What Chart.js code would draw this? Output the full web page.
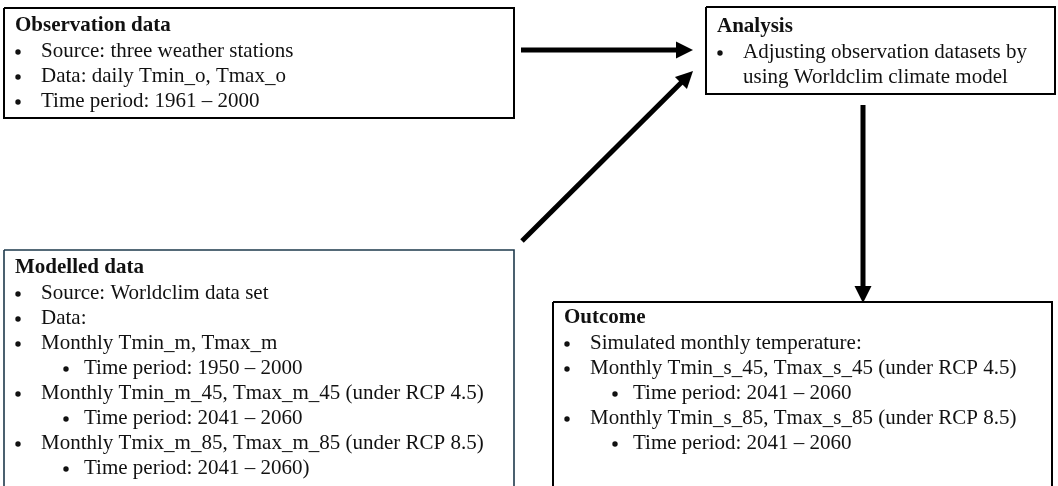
<!DOCTYPE html>
<html>
<head>
<meta charset="utf-8">
<title>Workflow</title>
<script src="https://cdn.jsdelivr.net/npm/chart.js@4"></script>
<style>
    html, body { margin: 0; padding: 0; background: #fff; }
    #flow { display: block; }
</style>
</head>
<body>
<canvas id="flow" width="1058" height="486"></canvas>

<script>
    // boxes: [left, top, right, bottom] in the chart's own units
    var obsBox = [4, 8, 514, 118];
    var analysisBox = [706, 7, 1055, 94];
    var modelBox = [4, 250, 514, 495];
    var outcomeBox = [553, 302, 1052, 495];

    // arrows: [tailX, tailY, tipX, tipY]
    var obsArrow = [521, 50, 693, 50];
    var modelArrow = [522, 241, 693, 71];
    var outArrow = [863, 105, 863, 303];

    var obsTitle = "Observation data";
    var obsLines = [
        [1, "Source: three weather stations"],
        [1, "Data: daily Tmin_o, Tmax_o"],
        [1, "Time period: 1961 \u2013 2000"]
    ];
    var analysisTitle = "Analysis";
    var analysisLines = [
        [1, "Adjusting observation datasets by"],
        [0, "using Worldclim climate model"]
    ];
    var modelTitle = "Modelled data";
    var modelLines = [
        [1, "Source: Worldclim data set"],
        [1, "Data:"],
        [1, "Monthly Tmin_m, Tmax_m"],
        [2, "Time period: 1950 \u2013 2000"],
        [1, "Monthly Tmin_m_45, Tmax_m_45 (under RCP 4.5)"],
        [2, "Time period: 2041 \u2013 2060"],
        [1, "Monthly Tmix_m_85, Tmax_m_85 (under RCP 8.5)"],
        [2, "Time period: 2041 \u2013 2060)"]
    ];
    var outcomeTitle = "Outcome";
    var outcomeLines = [
        [1, "Simulated monthly temperature:"],
        [1, "Monthly Tmin_s_45, Tmax_s_45 (under RCP 4.5)"],
        [2, "Time period: 2041 \u2013 2060"],
        [1, "Monthly Tmin_s_85, Tmax_s_85 (under RCP 8.5)"],
        [2, "Time period: 2041 \u2013 2060"]
    ];

    var FONT = "'Liberation Serif', 'Times New Roman', serif";

    function boxData(b) {
        return [
            {x: b[0], y: b[1]}, {x: b[2], y: b[1]},
            {x: b[2], y: b[3]}, {x: b[0], y: b[3]}, {x: b[0], y: b[1]}
        ];
    }

    // shaft stops a bit short of the tip so the head stays sharp
    function shaftData(a) {
        var dx = a[2] - a[0], dy = a[3] - a[1];
        var len = Math.sqrt(dx * dx + dy * dy);
        var back = 9 / len;
        return [{x: a[0], y: a[1]}, {x: a[2] - dx * back, y: a[3] - dy * back}];
    }

    function boxSet(b, color, width) {
        return {data: boxData(b), showLine: true, borderColor: color, borderWidth: width,
                pointRadius: 0, fill: false, tension: 0, borderJoinStyle: 'miter', kind: 'box'};
    }
    function arrowSet(a) {
        return {data: shaftData(a), showLine: true, borderColor: '#000', borderWidth: 5,
                pointRadius: 0, fill: false, borderCapStyle: 'butt', kind: 'arrow', arrow: a};
    }

    var panels = [
        {box: obsBox, title: obsTitle, lines: obsLines, pad: 18},
        {box: analysisBox, title: analysisTitle, lines: analysisLines, pad: 20},
        {box: modelBox, title: modelTitle, lines: modelLines, pad: 18},
        {box: outcomeBox, title: outcomeTitle, lines: outcomeLines, pad: 16}
    ];

    var flowPlugin = {
        id: 'flowText',
        afterDatasetsDraw: function(chart) {
            var ctx = chart.ctx;
            var xs = chart.scales.x, ys = chart.scales.y;
            ctx.save();

            // arrow heads
            chart.data.datasets.forEach(function(ds) {
                if (ds.kind !== 'arrow') return;
                var a = ds.arrow;
                var tx = xs.getPixelForValue(a[2]), ty = ys.getPixelForValue(a[3]);
                var fx = xs.getPixelForValue(a[0]), fy = ys.getPixelForValue(a[1]);
                var ang = Math.atan2(ty - fy, tx - fx);
                var hl = 17, hw = 8.5;
                ctx.fillStyle = '#000';
                ctx.beginPath();
                ctx.moveTo(tx, ty);
                ctx.lineTo(tx - hl * Math.cos(ang) + hw * Math.sin(ang), ty - hl * Math.sin(ang) - hw * Math.cos(ang));
                ctx.lineTo(tx - hl * Math.cos(ang) - hw * Math.sin(ang), ty - hl * Math.sin(ang) + hw * Math.cos(ang));
                ctx.closePath();
                ctx.fill();
            });

            // box texts
            ctx.fillStyle = '#111';
            ctx.textBaseline = 'middle';
            ctx.textAlign = 'left';
            panels.forEach(function(p) {
                var left = xs.getPixelForValue(p.box[0]);
                var top = ys.getPixelForValue(p.box[1]);
                var y = top + p.pad;
                ctx.font = 'bold 21px ' + FONT;
                ctx.fillText(p.title, left + 11, y);
                ctx.font = '21px ' + FONT;
                p.lines.forEach(function(l) {
                    y += 25;
                    var lvl = l[0];
                    var bx = lvl === 2 ? left + 62 : left + 14;
                    var tx = lvl === 2 ? left + 80 : left + 37;
                    if (lvl > 0) {
                        ctx.beginPath();
                        ctx.arc(bx, y + 1, 2.7, 0, Math.PI * 2);
                        ctx.fill();
                    }
                    ctx.fillText(l[1], tx, y);
                });
            });
            ctx.restore();
        }
    };

    new Chart(document.getElementById("flow"), {
        type: "scatter",
        data: {
            datasets: [
                boxSet(obsBox, '#000', 2),
                boxSet(analysisBox, '#000', 2),
                boxSet(modelBox, '#1e3a4c', 1.6),
                boxSet(outcomeBox, '#000', 2),
                arrowSet(obsArrow),
                arrowSet(modelArrow),
                arrowSet(outArrow)
            ]
        },
        options: {
            responsive: false,
            animation: false,
            devicePixelRatio: 1,
            layout: { padding: 0 },
            plugins: {
                legend: { display: false },
                tooltip: { enabled: false },
                title: { display: false }
            },
            events: [],
            scales: {
                x: { type: 'linear', min: 0, max: 1058, display: false },
                y: { type: 'linear', min: 0, max: 486, reverse: true, display: false }
            }
        },
        plugins: [flowPlugin]
    });
</script>
</body>
</html>
